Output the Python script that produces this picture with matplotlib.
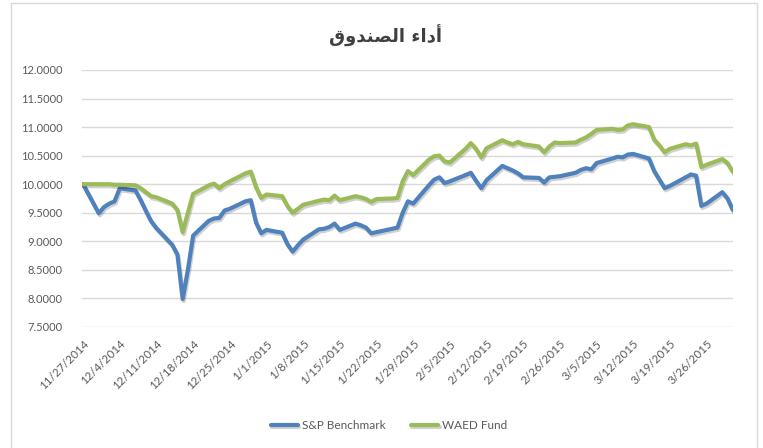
import matplotlib
matplotlib.use('Agg')
import matplotlib.pyplot as plt
import matplotlib.patheffects as pe
from matplotlib.patches import Rectangle
from matplotlib.ticker import FuncFormatter, MultipleLocator
import matplotlib.dates as mdates
import pandas as pd

# trading days (Sun-Thu market week)
dates = pd.bdate_range('2014-11-27', '2015-03-31', freq='C',
                       weekmask='Sun Mon Tue Wed Thu')

sp_benchmark = [
    10.00,
    9.49, 9.60, 9.66, 9.70, 9.93,
    9.89, 9.72, 9.53, 9.35, 9.23,
    8.94, 8.77, 7.99, 8.50, 9.10,
    9.36, 9.40, 9.41, 9.54, 9.57,
    9.70, 9.72, 9.33, 9.14, 9.20,
    9.15, 8.95, 8.82, 8.93, 9.03,
    9.21, 9.22, 9.25, 9.31, 9.20,
    9.31, 9.28, 9.24, 9.14, 9.16,
    9.22, 9.24, 9.50, 9.70, 9.66,
    9.98, 10.08, 10.12, 10.02, 10.05,
    10.16, 10.20, 10.06, 9.93, 10.07,
    10.32, 10.28, 10.24, 10.19, 10.12,
    10.11, 10.03, 10.12, 10.13, 10.14,
    10.20, 10.25, 10.28, 10.26, 10.37,
    10.45, 10.48, 10.47, 10.52, 10.53,
    10.45, 10.23, 10.08, 9.93, 9.97,
    10.12, 10.17, 10.15, 9.62, 9.66,
    9.86, 9.75, 9.55,
]

waed_fund = [
    10.00,
    10.00, 10.00, 10.00, 9.99, 9.99,
    9.98, 9.93, 9.86, 9.79, 9.77,
    9.66, 9.55, 9.16, 9.50, 9.83,
    9.98, 10.01, 9.93, 10.00, 10.05,
    10.19, 10.22, 9.95, 9.76, 9.82,
    9.79, 9.62, 9.50, 9.57, 9.64,
    9.71, 9.73, 9.72, 9.80, 9.72,
    9.79, 9.77, 9.74, 9.69, 9.74,
    9.75, 9.76, 10.05, 10.23, 10.16,
    10.43, 10.49, 10.50, 10.40, 10.38,
    10.62, 10.72, 10.62, 10.47, 10.63,
    10.77, 10.73, 10.70, 10.74, 10.70,
    10.66, 10.56, 10.66, 10.73, 10.72,
    10.73, 10.78, 10.82, 10.88, 10.95,
    10.97, 10.95, 10.96, 11.03, 11.05,
    11.00, 10.78, 10.68, 10.56, 10.62,
    10.70, 10.68, 10.71, 10.30, 10.34,
    10.44, 10.37, 10.22,
]

tick_dates = pd.date_range('2014-11-27', '2015-03-26', freq='7D')
series_names = ['S&P Benchmark', 'WAED Fund']
# Arabic title "أداء الصندوق", written as shaped presentation forms in visual order
title = '\ufed5\ufeed\ufeaa\ufee8\ufebc\ufedf\ufe8d \ufe80\ufe8d\ufea9\ufe83'

plt.rcParams['font.family'] = ['Lato', 'DejaVu Sans']
grey = '#595959'

fig = plt.figure(figsize=(7.63, 4.48), dpi=100)
fig.patches.append(Rectangle((0.0144, -0.02), 0.9776, 1.013, transform=fig.transFigure,
                             fill=False, edgecolor='#D9D9D9', linewidth=1))
ax = fig.add_axes([0.1075, 0.2701, 0.8532, 0.5737])

shadow = [pe.SimpleLineShadow(offset=(0.8, -1.5), shadow_color='#000000', alpha=0.18),
          pe.Normal()]
ax.plot(dates, sp_benchmark, color='#4F81BD', linewidth=3, label=series_names[0],
        solid_joinstyle='round', solid_capstyle='round', path_effects=shadow)
ax.plot(dates, waed_fund, color='#9BBB59', linewidth=3, label=series_names[1],
        solid_joinstyle='round', solid_capstyle='round', path_effects=shadow)

ax.set_ylim(7.5, 12.0)
ax.yaxis.set_major_locator(MultipleLocator(0.5))
ax.yaxis.set_major_formatter(FuncFormatter(lambda v, p: f'{v:.4f}'))
ax.set_xlim(dates[0] - pd.Timedelta(hours=5), dates[-1] + pd.Timedelta(hours=1))
ax.set_xticks(tick_dates)
ax.xaxis.set_major_formatter(FuncFormatter(
    lambda v, p: '{d.month}/{d.day}/{d.year}'.format(d=mdates.num2date(v))))

ax.grid(axis='y', color='#D9D9D9', linewidth=1)
ax.set_axisbelow(True)
for s in ax.spines.values():
    s.set_visible(False)
ax.tick_params(axis='y', length=0, pad=14, labelsize=8, labelcolor=grey)
ax.tick_params(axis='x', length=0, pad=8, labelsize=8.3, labelcolor=grey)
for lbl in ax.get_xticklabels():
    lbl.set_rotation(45)
    lbl.set_ha('right')
    lbl.set_va('top')
    lbl.set_rotation_mode('anchor')

fig.text(0.505, 0.92, title, ha='center', va='center', fontsize=13,
         fontweight='bold', color='#404040', family=['DejaVu Sans'])

fig.legend(loc='center', bbox_to_anchor=(0.51, 0.05), ncol=2, frameon=False,
           fontsize=8.5, labelcolor=grey, handlelength=2.3, handletextpad=0.3,
           columnspacing=2.2)

fig.savefig('out.png', dpi=100)
